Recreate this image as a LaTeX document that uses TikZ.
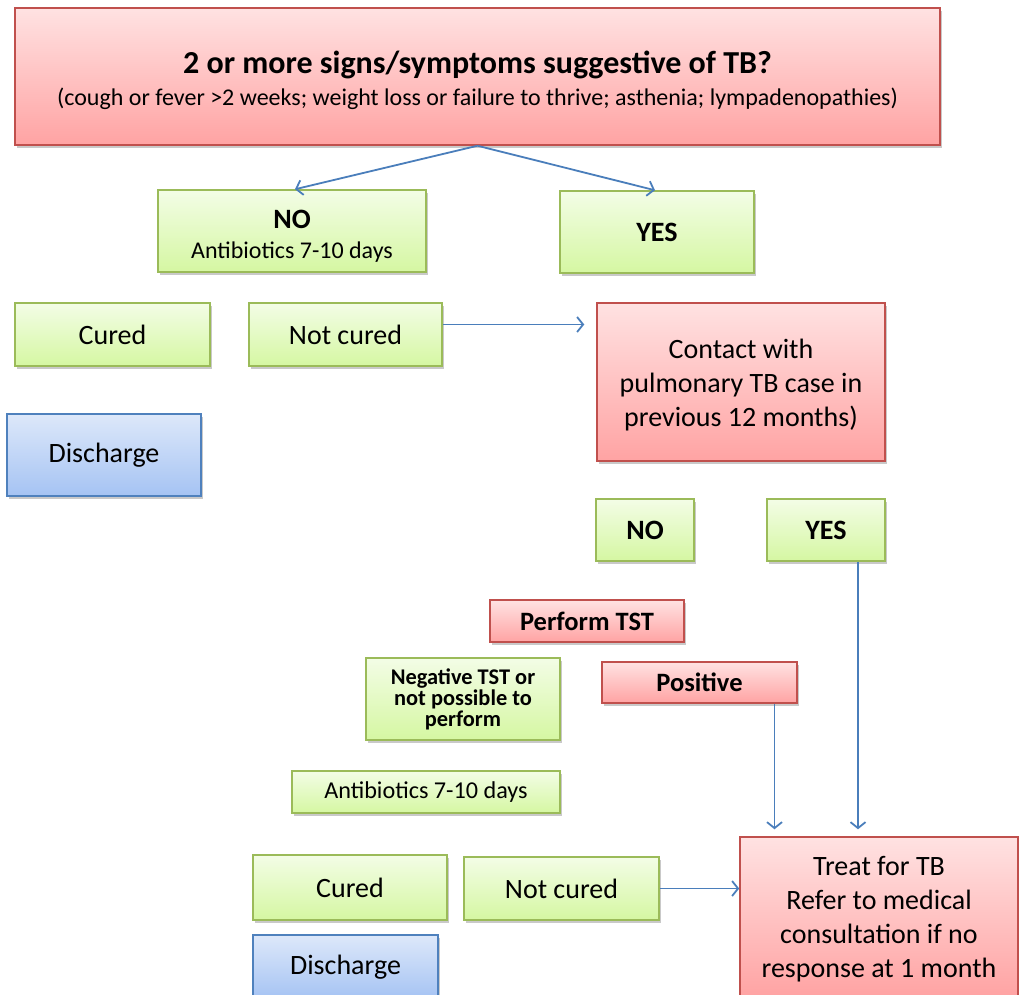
\documentclass[tikz,border=0pt]{standalone}
\usepackage{fontspec}
\setmainfont{Carlito}
\usetikzlibrary{shadows,arrows.meta,calc}
\definecolor{redD}{HTML}{C0504D}
\definecolor{redT}{HTML}{FFE2E2}
\definecolor{redB}{HTML}{FFA3A3}
\definecolor{grnD}{HTML}{9BBB59}
\definecolor{grnT}{HTML}{F3FDE6}
\definecolor{grnB}{HTML}{D5F7A2}
\definecolor{bluD}{HTML}{4F81BD}
\definecolor{bluT}{HTML}{DDE8FA}
\definecolor{bluB}{HTML}{A5C3F3}
\definecolor{arrC}{HTML}{4A7EBB}
\newcommand\lowerby[2]{\raisebox{0pt}[\dimexpr\height+#1\relax][\depth]{\begin{tabular}{@{}c@{}}#2\end{tabular}}}
\begin{document}
\begin{tikzpicture}[x=1pt,y=-1pt,
  base/.style={rectangle, line width=1.5pt, inner sep=0pt, align=center,
    drop shadow={shadow xshift=2pt,shadow yshift=-3pt,opacity=0.3,fill=black!70},
    font=\fontsize{28}{34}\selectfont},
  rbox/.style={base, draw=redD, top color=redT, bottom color=redB},
  gbox/.style={base, draw=grnD, top color=grnT, bottom color=grnB},
  bbox/.style={base, draw=bluD, top color=bluT, bottom color=bluB},
  arr/.style={draw=arrC, line width=1.8pt, -{Straight Barb[length=6pt,width=15pt,line width=1.8pt]}}
]
\useasboundingbox (0,0) rectangle (1019,994);
\clip (0,0) rectangle (1019,994);

\node[rbox, minimum width=925pt, minimum height=137pt] (top) at (477.5,76.5)
  {\lowerby{12pt}{{\fontsize{32}{36}\selectfont\bfseries 2 or more signs/symptoms suggestive of TB?}\\[-2pt]
   {\fontsize{24}{28}\selectfont (cough or fever >2 weeks; weight loss or failure to thrive; asthenia; lympadenopathies)}}};

\node[gbox, minimum width=268pt, minimum height=82pt] (no1) at (292,231)
  {\lowerby{11pt}{\bfseries NO\\[-4pt]{\fontsize{24}{28}\selectfont Antibiotics 7-10 days}}};
\node[gbox, minimum width=194pt, minimum height=82pt] (yes1) at (657,232) {\bfseries YES};

\node[gbox, minimum width=195pt, minimum height=63pt] (cured1) at (112.5,334.5) {Cured};
\node[gbox, minimum width=193pt, minimum height=63pt] (nc1) at (345.5,334.5) {Not cured};
\node[bbox, minimum width=194pt, minimum height=82pt] (dis1) at (104,455) {Discharge};

\node[rbox, minimum width=288pt, minimum height=158pt] (contact) at (741,382)
  {\lowerby{8pt}{Contact with\\pulmonary TB case in\\previous 12 months)}};

\node[gbox, minimum width=98pt, minimum height=62pt] (no2) at (645,530) {\bfseries NO};
\node[gbox, minimum width=118pt, minimum height=62pt] (yes2) at (826,530) {\bfseries YES};

\node[rbox, minimum width=194pt, minimum height=42pt, font=\fontsize{26.5}{30}\selectfont\bfseries] (tst) at (587,621) {Perform TST};
\node[gbox, minimum width=194pt, minimum height=82pt, font=\fontsize{22.4}{21}\selectfont\bfseries] (neg) at (463,699)
  {Negative TST or\\not possible to\\perform};
\node[rbox, minimum width=195pt, minimum height=41pt, font=\fontsize{26.5}{30}\selectfont\bfseries] (pos) at (699.5,682.5) {Positive};

\node[gbox, minimum width=268pt, minimum height=42pt, font=\fontsize{24.2}{28}\selectfont] (ab2) at (426,792) {Antibiotics 7-10 days};

\node[gbox, minimum width=194pt, minimum height=65pt] (cured2) at (350,887.5) {Cured};
\node[gbox, minimum width=195pt, minimum height=63pt] (nc2) at (561.5,888.5) {Not cured};
\node[bbox, minimum width=185pt, minimum height=64pt] (dis2) at (345.5,967) {Discharge};

\node[rbox, minimum width=278pt, minimum height=160pt] (treat) at (879,917)
  {\lowerby{6pt}{Treat for TB\\Refer to medical\\consultation if no\\response at 1 month}};

\draw[arr] (top.south) -- ([xshift=3pt]no1.north);
\draw[arr] (top.south) -- ([xshift=-2pt]yes1.north);
\draw[arr, shorten >=12pt] ([yshift=10pt]nc1.east) -- ([yshift=10pt]nc1.east -| contact.west);
\draw[arr, shorten >=7pt] ([xshift=32pt]yes2.south) -- ([xshift=32pt]yes2.south |- treat.north);
\draw[arr, shorten >=7pt] ([xshift=75pt]pos.south) -- ([xshift=75pt]pos.south |- treat.north);
\draw[arr] (nc2.east) -- (nc2.east -| treat.west);
\end{tikzpicture}
\end{document}
